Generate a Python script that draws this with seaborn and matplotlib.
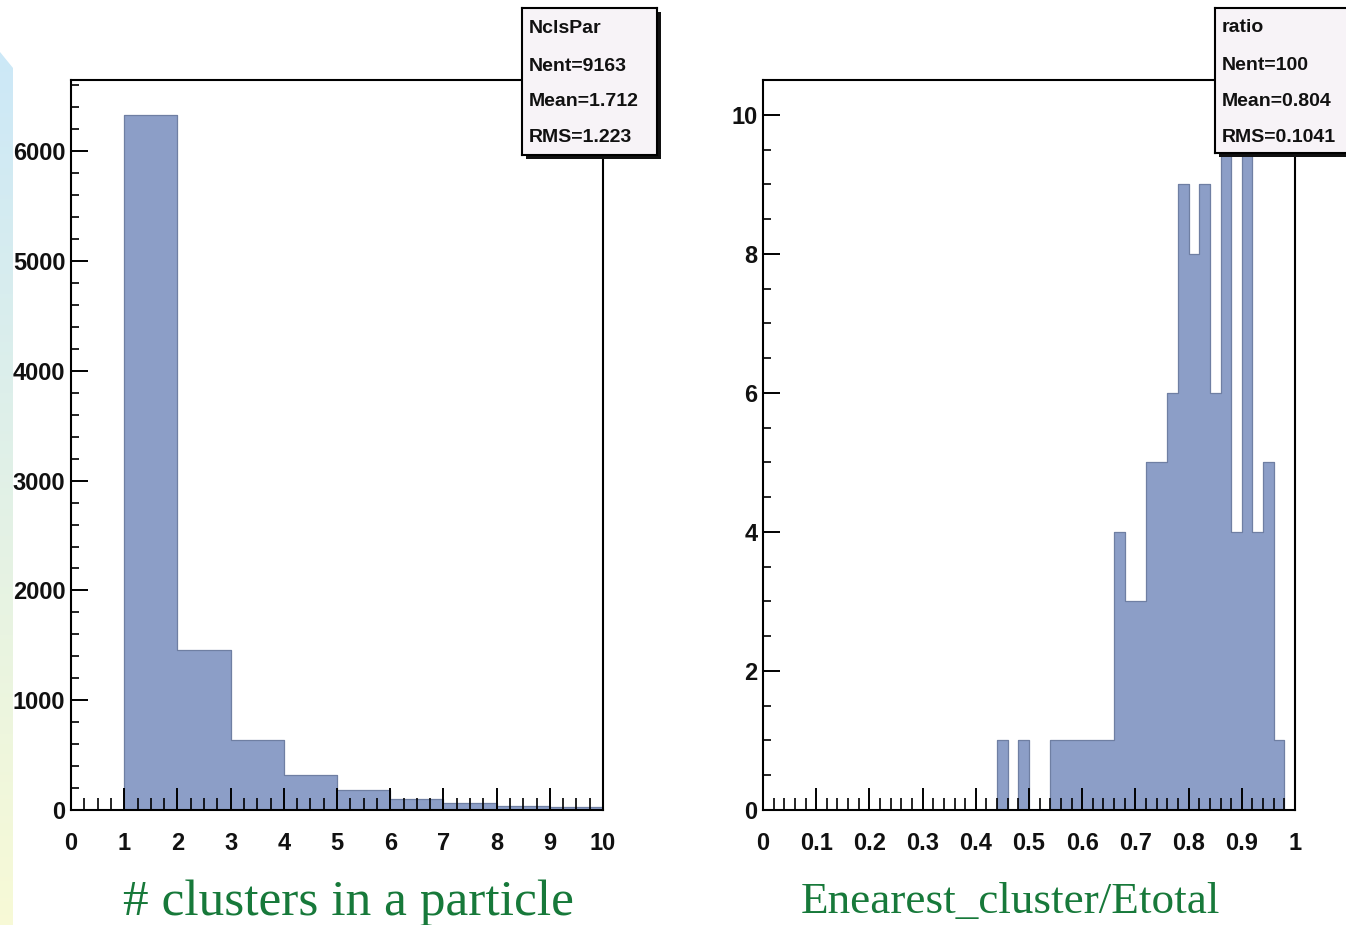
import numpy as np
import pandas as pd
import matplotlib
matplotlib.use("Agg")
import matplotlib.pyplot as plt
from matplotlib.ticker import MultipleLocator, FuncFormatter
from matplotlib.patches import Polygon
import seaborn as sns

sns.set_theme(style="white")
plt.rcParams["font.family"] = ["Liberation Sans", "DejaVu Sans"]

# --- histogram contents -------------------------------------------------
# number of clusters per particle, unit bins from 0 to 10
ncls_edges = np.arange(0, 11, 1)
ncls_counts = [0, 6330, 1460, 640, 320, 185, 100, 65, 35, 28]
ncls_stats = ["NclsPar", "Nent=9163", "Mean=1.712", "RMS=1.223"]

# nearest-cluster energy fraction, 50 bins of width 0.02
ratio_edges = np.linspace(0, 1, 51)
ratio_counts = [0] * 22 + [1, 0, 1, 0, 0,
                           1, 1, 1, 1, 1, 1,
                           4, 3, 3, 5, 5, 6, 9, 8, 9, 6, 10, 4, 10, 4, 5, 1, 0]
ratio_stats = ["ratio", "Nent=100", "Mean=0.804", "RMS=0.1041"]

xlabels = ["# clusters in a particle", "Enearest_cluster/Etotal"]

W, H = 1346, 925
BAR = "#8c9ec7"
EDGE = "#6f7fa3"
GREEN = "#17793a"

fig = plt.figure(figsize=(W / 100, H / 100), dpi=100)
fig.patch.set_facecolor("white")


def px_rect(x0, y0, x1, y1):
    """Convert a pixel box (top-left origin) to figure coordinates."""
    return [x0 / W, 1 - y1 / H, (x1 - x0) / W, (y1 - y0) / H]


# decorative gradient strip on the left edge
bg = fig.add_axes([0, 0, 1, 1], zorder=-5)
bg.axis("off")
grad = np.linspace(0, 1, 256)[:, None]
top = np.array([0.80, 0.91, 0.97])
bot = np.array([0.97, 0.98, 0.84])
img = (top[None, None, :] * (1 - grad[..., None]) + bot[None, None, :] * grad[..., None])
im = bg.imshow(img, extent=[0, 13, H, 52], aspect="auto", zorder=0)
strip = Polygon([(0, 52), (13, 68), (13, H), (0, H)], closed=True,
                transform=bg.transData, facecolor="none", edgecolor="none")
bg.add_patch(strip)
im.set_clip_path(strip)
bg.set_xlim(0, W)
bg.set_ylim(H, 0)

panels = [
    dict(rect=px_rect(71, 80, 603, 810), edges=ncls_edges, counts=ncls_counts,
         ylim=(0, 6650), ymaj=1000, ymin=200, xmaj=1, xmin=0.25,
         xlim=(0, 10), stats=ncls_stats, box=(522, 8, 657, 155),
         label_x=348, label_y=915, label_size=37),
    dict(rect=px_rect(763, 80, 1295, 810), edges=ratio_edges, counts=ratio_counts,
         ylim=(0, 10.5), ymaj=2, ymin=0.5, xmaj=0.1, xmin=0.02,
         xlim=(0, 1), stats=ratio_stats, box=(1215, 8, 1352, 153),
         label_x=1010, label_y=913, label_size=32.5),
]

for i, p in enumerate(panels):
    ax = fig.add_axes(p["rect"])
    edges = [float(e) for e in p["edges"]]
    centers = [0.5 * (a + b) for a, b in zip(edges[:-1], edges[1:])]
    df = pd.DataFrame({"value": centers, "count": p["counts"]})
    sns.histplot(data=df, x="value", weights="count", bins=edges, element="step",
                 fill=True, color=BAR, alpha=1.0, edgecolor=EDGE, linewidth=0.9,
                 ax=ax)
    ax.set_axisbelow(False)
    ax.set_xlim(*p["xlim"])
    ax.set_ylim(*p["ylim"])
    ax.set_xlabel("")
    ax.set_ylabel("")
    ax.set_facecolor("white")
    for s in ax.spines.values():
        s.set_color("black")
        s.set_linewidth(1.5)
        s.set_visible(True)
        s.set_zorder(5)
    ax.xaxis.set_major_locator(MultipleLocator(p["xmaj"]))
    ax.xaxis.set_minor_locator(MultipleLocator(p["xmin"]))
    ax.yaxis.set_major_locator(MultipleLocator(p["ymaj"]))
    ax.yaxis.set_minor_locator(MultipleLocator(p["ymin"]))
    ax.xaxis.set_major_formatter(FuncFormatter(lambda v, _: f"{round(v, 3):g}"))
    ax.yaxis.set_major_formatter(FuncFormatter(lambda v, _: f"{round(v, 3):g}"))
    ax.tick_params(axis="x", which="major", direction="in", length=16, width=1.4,
                   pad=16, labelsize=17, color="black", bottom=True, top=False)
    ax.tick_params(axis="x", which="minor", direction="in", length=8.5, width=1.2,
                   color="black", bottom=True, top=False)
    ax.tick_params(axis="y", which="major", direction="in", length=12, width=1.4,
                   pad=4, labelsize=17, color="black", left=True, right=False)
    ax.tick_params(axis="y", which="minor", direction="in", length=6, width=1.2,
                   color="black", left=True, right=False)
    for lab in ax.get_xticklabels() + ax.get_yticklabels():
        lab.set_fontweight("bold")
        lab.set_color("#111111")

    # statistics box with drop shadow
    x0, y0, x1, y1 = p["box"]
    shadow = fig.add_axes(px_rect(x0 + 4, y0 + 4, x1 + 4, y1 + 4), zorder=10)
    shadow.set_facecolor("#111111")
    shadow.set_xticks([]); shadow.set_yticks([])
    for s in shadow.spines.values():
        s.set_visible(False)
    box = fig.add_axes(px_rect(x0, y0, x1, y1), zorder=11)
    box.set_facecolor("#f7f3f7")
    box.set_xticks([]); box.set_yticks([])
    for s in box.spines.values():
        s.set_color("black")
        s.set_linewidth(1.5)
    box.set_xlim(x0, x1)
    box.set_ylim(y1, y0)
    for line, ty in zip(p["stats"], [28, 66, 101, 137]):
        box.text(x0 + 7, ty, line, ha="left", va="center", fontsize=14,
                 fontweight="bold", color="#111111")

    fig.text(p["label_x"] / W, (H - p["label_y"]) / H, xlabels[i], ha="center",
             va="baseline", fontsize=p["label_size"], color=GREEN,
             family=["Liberation Serif", "DejaVu Serif"])

fig.savefig("out.png", dpi=100, facecolor="white")
